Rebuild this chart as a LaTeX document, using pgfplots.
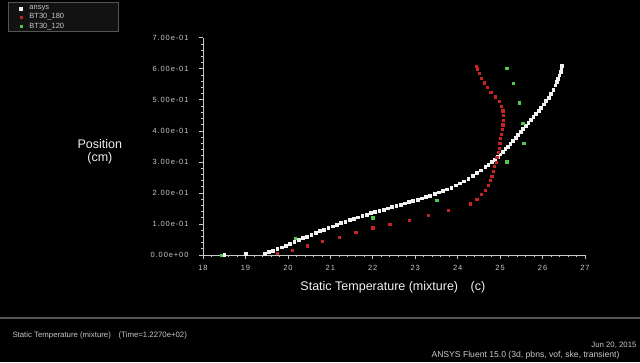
\documentclass[border=0pt]{standalone}
\usepackage{fontspec}
\setmainfont{Liberation Sans}
\usepackage{pgfplots}
\pgfplotsset{compat=1.18}
\definecolor{axgray}{RGB}{200,200,200}
\definecolor{wser}{RGB}{240,240,240}
\definecolor{rser}{RGB}{200,35,35}
\definecolor{gser}{RGB}{80,200,80}
\definecolor{sepgray}{RGB}{85,85,85}
\definecolor{legbg}{RGB}{18,18,18}
\begin{document}
\begin{tikzpicture}
\useasboundingbox (0pt,0pt) rectangle (640pt,362pt);
\clip (0pt,0pt) rectangle (640pt,362pt);
\fill[black] (0pt,0pt) rectangle (640pt,362pt);
% bottom separator and status text
\draw[sepgray, line width=2pt] (0pt,44pt) -- (640pt,44pt);
\node[anchor=west, text=axgray, font=\fontsize{7.8}{8}\selectfont] at (9pt,27pt) {Static Temperature (mixture)\quad (Time=1.2270e+02)};
\node[anchor=east, text=axgray, font=\fontsize{7.8}{8}\selectfont] at (640pt,17pt) {Jun 20, 2015};
\node[anchor=west, text=axgray, font=\fontsize{8.6}{9}\selectfont] at (428pt,7pt) {ANSYS Fluent 15.0 (3d, pbns, vof, ske, transient)};
% legend frame
\filldraw[fill=legbg, draw=sepgray, line width=0.8pt] (8pt,331pt) rectangle (118pt,360pt);
\begin{axis}[
  at={(203pt,107pt)}, anchor=south west,
  scale only axis, width=382pt, height=217.3pt,
  xmin=18, xmax=27, ymin=0, ymax=0.7,
  axis x line=bottom, axis y line=left,
  axis line style={-, axgray, line width=0.8pt},
  every tick/.style={axgray, line width=0.6pt},
  tick align=outside, major tick length=4pt, minor tick length=2pt,
  xtick={18,19,20,21,22,23,24,25,26,27},
  ytick={0,0.1,0.2,0.3,0.4,0.5,0.6,0.7},
  yticklabels={0.00e+00,1.00e-01,2.00e-01,3.00e-01,4.00e-01,5.00e-01,6.00e-01,7.00e-01},
  minor x tick num=4, minor y tick num=4,
  /pgf/number format/assume math mode=true,
  tick label style={text=axgray, font=\fontsize{7.5}{8}\selectfont\addfontfeature{LetterSpace=12}},
  yticklabel style={xshift=-7pt},
  xticklabel style={yshift=-3pt},
  xlabel={Static Temperature (mixture)\quad (c)},
  ylabel={Position\\(cm)},
  x label style={at={(axis description cs:0.497,-0.147)}, anchor=center, text=wser, font=\fontsize{12.5}{13}\selectfont},
  y label style={at={(axis description cs:-0.27,0.474)}, rotate=-90, anchor=center, align=center, text=wser, font=\fontsize{12.5}{12.5}\selectfont},
  legend style={at={(axis description cs:-0.483,1.162)}, anchor=north west, draw=none, fill=none, text=axgray, font=\fontsize{7.5}{7.5}\selectfont, row sep=-1.6pt, inner sep=1pt, /tikz/every odd column/.append style={column sep=5pt}},
  legend cell align=left,
  clip=false,
]
\addplot[only marks, mark=square*, mark size=1.4pt, color=wser] coordinates {
(18.5,0.0)(19.0,0.003)
(19.45,0.004)(19.55,0.010)(19.65,0.015)(19.75,0.020)(19.85,0.025)(19.95,0.031)
(20.05,0.037)(20.15,0.043)(20.25,0.049)(20.35,0.055)(20.45,0.060)(20.55,0.066)
(20.65,0.071)(20.75,0.077)(20.85,0.082)(20.95,0.087)(21.05,0.093)(21.15,0.098)
(21.25,0.103)(21.35,0.108)(21.45,0.113)(21.55,0.117)(21.65,0.122)(21.75,0.127)
(21.85,0.131)(21.95,0.135)(22.05,0.139)(22.15,0.143)(22.25,0.147)(22.35,0.151)
(22.45,0.155)(22.55,0.159)(22.65,0.163)(22.75,0.167)(22.85,0.171)(22.95,0.175)
(23.05,0.179)(23.15,0.183)(23.25,0.188)(23.35,0.192)(23.45,0.197)(23.55,0.202)
(23.65,0.207)(23.75,0.212)(23.85,0.218)(23.95,0.225)(24.05,0.231)(24.15,0.238)
(24.25,0.246)(24.35,0.255)(24.45,0.264)(24.55,0.273)(24.65,0.284)(24.72,0.292)
(24.8,0.300)(24.87,0.308)(24.94,0.317)(25.0,0.325)(25.06,0.333)(25.12,0.342)
(25.18,0.350)(25.24,0.359)(25.3,0.368)(25.36,0.378)(25.42,0.387)(25.48,0.397)
(25.54,0.406)(25.6,0.416)(25.66,0.426)(25.72,0.435)(25.78,0.445)(25.84,0.455)
(25.9,0.465)(25.96,0.475)(26.02,0.486)(26.08,0.497)(26.14,0.508)(26.2,0.520)
(26.25,0.533)(26.3,0.547)(26.33,0.557)(26.36,0.568)(26.39,0.579)(26.42,0.591)
(26.44,0.602)(26.45,0.610)
};
\addlegendentry{ansys}
\addplot[only marks, mark=square*, mark size=1.1pt, color=rser] coordinates {
(19.75,0.006)(20.1,0.016)(20.45,0.030)(20.8,0.045)(21.2,0.058)(21.6,0.073)
(22.0,0.088)(22.4,0.099)(22.85,0.113)(23.3,0.128)(23.78,0.145)(24.3,0.165)
(24.45,0.180)(24.55,0.195)(24.65,0.210)(24.72,0.225)(24.77,0.240)(24.8,0.255)
(24.84,0.270)(24.87,0.285)(24.9,0.300)(24.92,0.315)(24.95,0.330)(24.97,0.345)
(24.99,0.360)(25.01,0.375)(25.03,0.390)(25.05,0.405)(25.06,0.420)(25.07,0.435)
(25.08,0.450)(25.06,0.465)(25.03,0.480)(24.97,0.495)(24.88,0.510)(24.78,0.525)
(24.7,0.540)(24.62,0.555)(24.56,0.570)(24.5,0.585)(24.46,0.600)(24.44,0.607)
};
\addlegendentry{BT30\_180}
\addplot[only marks, mark=square*, mark size=1.3pt, color=gser] coordinates {
(18.43,0.0)(20.17,0.054)(22.0,0.120)(23.5,0.177)(25.16,0.300)(25.55,0.360)
(25.53,0.425)(25.45,0.490)(25.31,0.554)(25.16,0.602)
};
\addlegendentry{BT30\_120}
\end{axis}
\end{tikzpicture}
\end{document}
